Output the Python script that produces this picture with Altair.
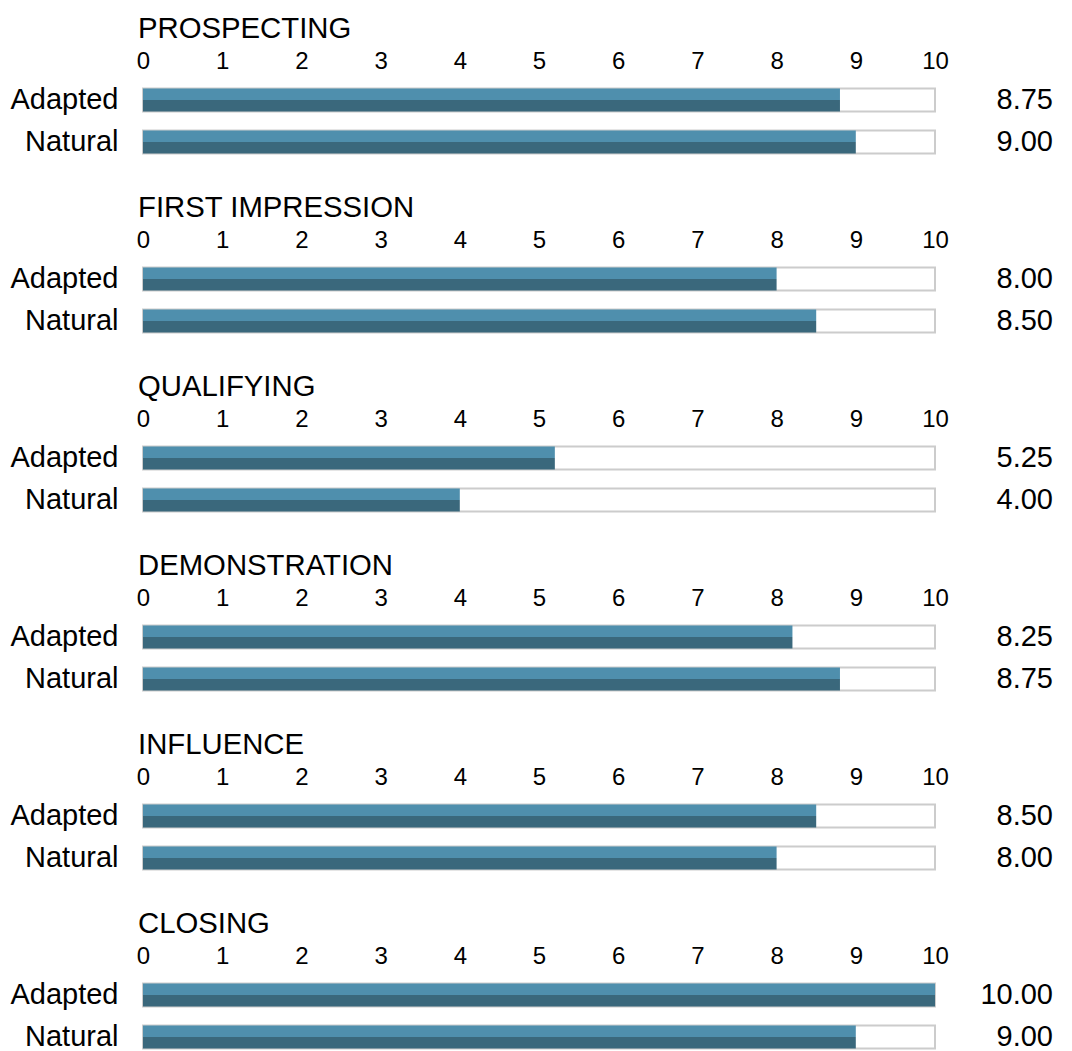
import altair as alt
import pandas as pd

sections = ["PROSPECTING", "FIRST IMPRESSION", "QUALIFYING",
            "DEMONSTRATION", "INFLUENCE", "CLOSING"]
styles = ["Adapted", "Natural"]
adapted_scores = [8.75, 8.00, 5.25, 8.25, 8.50, 10.00]
natural_scores = [9.00, 8.50, 4.00, 8.75, 8.00, 9.00]
# bar lengths as drawn in the picture
adapted_bars = [8.8, 8.0, 5.2, 8.2, 8.5, 10.0]
natural_bars = [9.0, 8.5, 4.0, 8.8, 8.0, 9.0]
scale_max = 10
ticks = list(range(0, 11))

FONT = "Liberation Sans"
LIGHT = "#4f8fad"
DARK = "#3a687c"
BORDER = "#cccccc"

rows = []
for i, s in enumerate(sections):
    rows.append({"section": s, "style": "Adapted", "bar": adapted_bars[i],
                 "label": f"{adapted_scores[i]:.2f}", "full": scale_max})
    rows.append({"section": s, "style": "Natural", "bar": natural_bars[i],
                 "label": f"{natural_scores[i]:.2f}", "full": scale_max})
df = pd.DataFrame(rows)


def panel(name):
    d = df[df["section"] == name]
    yenc = alt.Y("style:N", sort=styles,
                 scale=alt.Scale(paddingInner=0, paddingOuter=0),
                 axis=alt.Axis(title=None, ticks=False, domain=False,
                               labelFontSize=29, labelPadding=25,
                               labelColor="black", labelFont=FONT))
    xscale = alt.Scale(domain=[0, scale_max], nice=False)
    base = alt.Chart(d).encode(y=yenc)
    box = base.mark_bar(height=23, fill="white", stroke=BORDER,
                        strokeWidth=2).encode(
        x=alt.X("full:Q", scale=xscale,
                axis=alt.Axis(orient="top", values=ticks, title=None,
                              format="d",
                              grid=False, ticks=False, domain=False,
                              labelFontSize=24, labelPadding=6,
                              labelColor="black", labelFont=FONT,
                              labelFlush=False))
    )
    light = base.mark_bar(height=11.5, yOffset=-5.75, color=LIGHT).encode(
        x=alt.X("bar:Q", scale=xscale)
    )
    dark = base.mark_bar(height=11.5, yOffset=5.75, color=DARK).encode(
        x=alt.X("bar:Q", scale=xscale)
    )
    text = base.mark_text(align="right", baseline="middle", fontSize=29,
                          font=FONT, color="black").encode(
        x=alt.value(910), text="label:N"
    )
    return alt.layer(box, light, dark, text).properties(
        width=792, height=84,
        title=alt.TitleParams(name, anchor="start", frame="group",
                              fontSize=29.3, font=FONT, fontWeight="normal",
                              color="black", dx=-5, offset=5),
    )


chart = alt.vconcat(*[panel(s) for s in sections], spacing=30).properties(
    padding={"left": 1, "top": 6, "right": 5, "bottom": 5}
).configure_view(stroke=None)

chart.save("out.html", embed_options={"renderer": "svg", "actions": False})
